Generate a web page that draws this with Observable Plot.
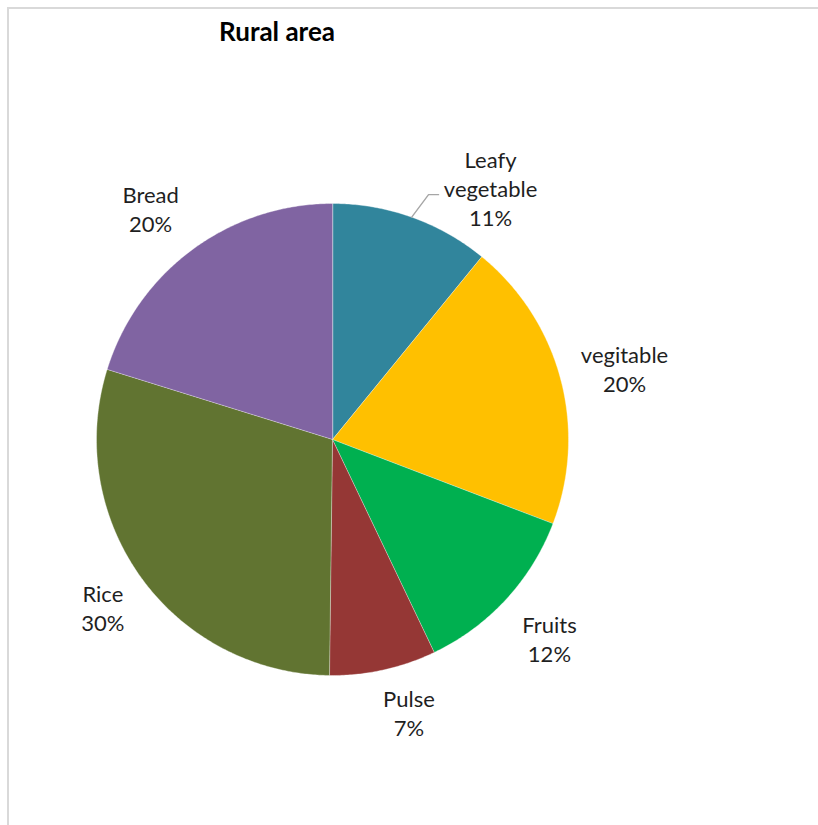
<!DOCTYPE html>
<html><head><meta charset="utf-8">
<script src="https://cdn.jsdelivr.net/npm/d3@7"></script>
<script src="https://cdn.jsdelivr.net/npm/@observablehq/plot@0.6"></script>
<style>
html,body{margin:0;padding:0;background:#fff;overflow:hidden;}
#wrap{position:relative;width:818px;height:825px;overflow:hidden;}
#frame{position:absolute;left:7px;top:7px;width:1000px;height:1000px;border-left:2px solid #d9d9d9;border-top:2px solid #d9d9d9;}
#chart{position:absolute;left:0;top:0;}
#title{position:absolute;left:0;width:554px;top:16px;text-align:center;font-family:Lato,sans-serif;font-weight:bold;font-size:26px;line-height:30px;color:#000;}
</style></head><body>
<div id="wrap"><div id="frame"></div><div id="chart"></div><div id="title">Rural area</div></div>
<script>
// ---- data ----
const categories = ["Leafy vegetable", "vegitable", "Fruits", "Pulse", "Rice", "Bread"];
const labelNames = ["Leafy\nvegetable", "vegitable", "Fruits", "Pulse", "Rice", "Bread"];
const values = [10.9, 19.9, 12.1, 7.3, 29.6, 20.2];

// ---- style / layout ----
const palette = ["#31859c", "#ffc000", "#00b050", "#953735", "#617431", "#8064a2"];
const W = 818, H = 825, CX = 332, CY = 439, R = 236;
const labelR = 1.25;
const nudge = { // pixel nudges for label placement (Excel best-fit)
  "Leafy vegetable": [59, 26], "vegitable": [7, 5], "Fruits": [0, -1],
  "Pulse": [13, -15], "Rice": [9, -6], "Bread": [-7, 6]
};

const total = d3.sum(values);
let cum = 0;
const slices = [], labels = [];
categories.forEach((c, i) => {
  const a0 = cum / total * 2 * Math.PI;
  cum += values[i];
  const a1 = cum / total * 2 * Math.PI;
  const n = Math.max(2, Math.ceil((a1 - a0) * 180 / Math.PI * 2));
  slices.push({cat: c, x: 0, y: 0});
  for (let k = 0; k <= n; k++) {
    const a = a0 + (a1 - a0) * k / n;
    slices.push({cat: c, x: Math.sin(a), y: Math.cos(a)});
  }
  const m = (a0 + a1) / 2;
  const [dx, dy] = nudge[c];
  labels.push({
    cat: c, mid: m,
    x: labelR * Math.sin(m) + dx / R,
    y: labelR * Math.cos(m) - dy / R,
    text: labelNames[i] + "\n" + Math.round(values[i] / total * 100) + "%"
  });
});
const disk = d3.range(0, 361, 1).map(d => ({x: Math.sin(d * Math.PI / 180), y: Math.cos(d * Math.PI / 180)}));

// leader line for the first label
const lf = labels[0];
const leader = [
  {x: Math.sin(lf.mid), y: Math.cos(lf.mid)},
  {x: lf.x - 62 / R, y: lf.y - 7 / R},
  {x: lf.x - 52 / R, y: lf.y - 7 / R}
];

const chart = Plot.plot({
  width: W, height: H,
  margin: 0,
  x: {domain: [-CX / R, (W - CX) / R], range: [0, W], axis: null},
  y: {domain: [-(H - CY) / R, CY / R], range: [H, 0], axis: null},
  style: {background: "transparent", fontFamily: "Lato, sans-serif"},
  marks: [
    Plot.line(disk, {x: "x", y: "y", fill: "#fff", stroke: "none", curve: "linear-closed", ariaLabel: "shadow"}),
    ...categories.map((c, i) => Plot.line(slices.filter(d => d.cat === c), {
      x: "x", y: "y", fill: palette[i], stroke: "#fff", strokeWidth: 0.7, strokeOpacity: 0.5, curve: "linear-closed"
    })),
    Plot.line(leader, {x: "x", y: "y", stroke: "#a6a6a6", strokeWidth: 1.4, strokeLinejoin: "miter"}),
    Plot.text(labels, {x: "x", y: "y", text: "text", fontSize: 22, lineHeight: 1.32, fill: "#1f1f1f", fontFamily: "Lato, sans-serif"})
  ]
});

const svg = d3.select(chart);
const defs = svg.insert("defs", ":first-child");
const f = defs.append("filter").attr("id", "pieShadow").attr("x", "-20%").attr("y", "-20%").attr("width", "140%").attr("height", "140%");
f.append("feDropShadow").attr("dx", 3).attr("dy", 3).attr("stdDeviation", 4).attr("flood-color", "#000").attr("flood-opacity", 0.3);
svg.select('g[aria-label="shadow"]').attr("filter", "url(#pieShadow)");

document.getElementById("chart").appendChild(chart);
</script>
</body></html>
